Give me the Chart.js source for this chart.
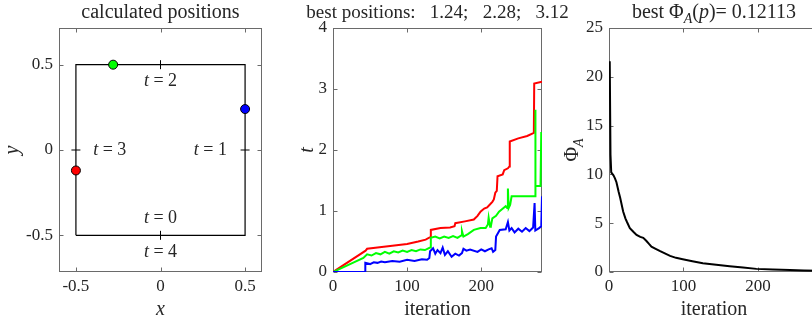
<!DOCTYPE html>
<html>
<head>
<meta charset="utf-8">
<script src="https://cdn.jsdelivr.net/npm/chart.js@4.4.1/dist/chart.umd.min.js"></script>
<style>
  html, body { margin: 0; padding: 0; background: #fff; overflow: hidden; width: 812px; height: 322px; }
  canvas { position: absolute; top: 0; }
</style>
</head>
<body>
<canvas id="c1" width="270" height="322" style="left:0px"></canvas>
<canvas id="c2" width="320" height="322" style="left:270px"></canvas>
<canvas id="c3" width="270" height="322" style="left:560px"></canvas>
<script>
// ---- data ----
const squareX = [-0.5, 0.5, 0.5, -0.5, -0.5];
const squareY = [-0.5, -0.5, 0.5, 0.5, -0.5];
const markX = [0, 0.5, 0, -0.5];          // t = 0, 1, 2, 3 on the square
const markY = [-0.5, 0, 0.5, 0];
const sideTimes = [0, 1, 2, 3, 4];
const posX = [0.5, -0.28, -0.5];          // blue, green, red
const posY = [0.24, 0.5, -0.12];
const posColors = ['#0000ff', '#00ff00', '#ff0000'];
const bestT = [1.24, 2.28, 3.12];
const bestPhi = 0.12113;

const posTicks = [-0.5, 0, 0.5];
const posTickLabels = ['-0.5', '0', '0.5'];
const iterTicks = [0, 100, 200];
const tTicks = [0, 1, 2, 3, 4];
const phiTicks = [0, 5, 10, 15, 20, 25];

const redIt = [0, 44, 46, 60, 80, 100, 115, 125, 131, 132, 145, 158, 164, 165, 178, 190, 195, 199, 204, 208,
  212, 215, 217, 219, 221, 222, 229, 231, 236, 238, 238.5, 250, 262, 271, 271.5, 282];
const redT = [0, 0.35, 0.38, 0.40, 0.43, 0.46, 0.50, 0.53, 0.57, 0.69, 0.72, 0.73, 0.75, 0.80, 0.83, 0.86, 0.92, 0.99, 1.04, 1.06,
  1.11, 1.15, 1.19, 1.30, 1.33, 1.57, 1.60, 1.67, 1.70, 1.73, 2.14, 2.19, 2.23, 2.28, 3.09, 3.12];

const greenIt = [0, 41, 46, 52, 58, 64, 70, 76, 82, 88, 94, 100, 106, 112, 118, 124, 131, 132, 138, 144,
  150, 156, 162, 168, 173, 174, 176, 182, 190, 199, 206, 209, 210, 212, 213, 215, 220, 224, 228, 233,
  235, 236, 237, 239, 241, 272.6, 272.9, 273.4, 280, 281, 282];
const greenT = [0, 0.23, 0.29, 0.27, 0.31, 0.29, 0.33, 0.30, 0.34, 0.32, 0.35, 0.33, 0.36, 0.34, 0.37, 0.36, 0.40, 0.56, 0.58, 0.55,
  0.58, 0.56, 0.59, 0.56, 0.60, 0.67, 0.58, 0.62, 0.69, 0.72, 0.72, 0.78, 0.89, 0.74, 0.75, 0.88, 0.92, 0.99, 1.03, 1.08,
  1.05, 1.37, 1.05, 1.10, 1.24, 1.24, 2.66, 1.41, 1.41, 2.28, 2.28];

const blueIt = [0, 43.5, 43.6, 50, 55, 60, 65, 70, 80, 90, 100, 110, 120, 127, 130, 131, 135, 138, 141, 145,
  148, 151, 155, 160, 165, 170, 174, 176, 180, 185, 195, 200, 205, 210, 214, 216, 219, 220, 225, 233,
  236, 238, 241, 245, 250, 255, 260, 265, 270, 272, 273, 278, 281, 282];
const blueT = [0, 0, 0.15, 0.13, 0.16, 0.15, 0.17, 0.16, 0.18, 0.17, 0.20, 0.18, 0.21, 0.20, 0.23, 0.34, 0.39, 0.30, 0.36, 0.31,
  0.40, 0.28, 0.34, 0.25, 0.30, 0.27, 0.31, 0.38, 0.35, 0.37, 0.33, 0.37, 0.34, 0.37, 0.39, 0.33, 0.36, 0.58, 0.69, 0.70,
  0.82, 0.68, 0.72, 0.65, 0.71, 0.66, 0.72, 0.67, 0.73, 1.13, 0.68, 0.72, 0.75, 1.24];

const phiIt = [1, 2, 3, 6, 8, 10, 13, 15, 19, 22, 24, 28, 33, 37, 42, 46, 50, 54, 57, 62,
  68, 75, 82, 90, 99, 112, 126, 144, 162, 180, 198, 220, 243, 262, 282];
const phiV = [21.6, 12.0, 10.2, 9.9, 9.6, 9.2, 8.2, 7.6, 6.2, 5.5, 5.15, 4.5, 4.1, 3.8, 3.6, 3.5, 3.2, 2.85, 2.6, 2.4,
  2.16, 1.9, 1.65, 1.45, 1.3, 1.1, 0.9, 0.75, 0.6, 0.45, 0.32, 0.25, 0.2, 0.16, 0.12];

// ---- helpers ----
const SERIF = "'Liberation Serif', 'DejaVu Serif', serif";
const INK = '#262626';
Chart.defaults.font.family = SERIF;
Chart.defaults.font.size = 17;
Chart.defaults.color = INK;

const pts = (xs, ys) => xs.map((x, i) => ({ x: x, y: ys[i] }));

// parts: [text, italic, subscript]
function richText(ctx, parts, x, y, size, rotate) {
  const fontFor = p => (p[1] ? 'italic ' : '') + Math.round(p[2] ? size * 0.72 : size) + 'px ' + SERIF;
  ctx.save();
  ctx.translate(x, y);
  if (rotate) ctx.rotate(-Math.PI / 2);
  ctx.fillStyle = INK;
  ctx.textBaseline = 'middle';
  ctx.textAlign = 'left';
  const widths = parts.map(p => { ctx.font = fontFor(p); return ctx.measureText(p[0]).width; });
  let cx = -widths.reduce((a, b) => a + b, 0) / 2;
  parts.forEach((p, i) => {
    ctx.font = fontFor(p);
    ctx.fillText(p[0], cx, p[2] ? size * 0.3 : 0);
    cx += widths[i];
  });
  ctx.restore();
}

// box round the axes with inward ticks, matlab style
const boxPlugin = {
  id: 'box',
  beforeDatasetsDraw(chart) {
    const { ctx, chartArea: a, scales: { x, y } } = chart;
    ctx.save();
    ctx.strokeStyle = '#6a6a6a';
    ctx.lineWidth = 1;
    const l = Math.round(a.left) + 0.5, r = Math.round(a.right) - 0.5;
    const t = Math.round(a.top) + 0.5, b = Math.round(a.bottom) - 0.5;
    ctx.strokeRect(l, t, r - l, b - t);
    ctx.beginPath();
    x.ticks.forEach(tk => {
      const p = Math.round(x.getPixelForValue(tk.value)) + 0.5;
      ctx.moveTo(p, b); ctx.lineTo(p, b - 4);
      ctx.moveTo(p, t); ctx.lineTo(p, t + 4);
    });
    y.ticks.forEach(tk => {
      const p = Math.round(y.getPixelForValue(tk.value)) + 0.5;
      ctx.moveTo(l, p); ctx.lineTo(l + 4, p);
      ctx.moveTo(r, p); ctx.lineTo(r - 4, p);
    });
    ctx.stroke();
    ctx.restore();
  }
};

function labelPlugin(title, titleSize, xLabel, yLabel, yLabelX) {
  return {
    id: 'labels',
    afterDraw(chart) {
      const { ctx, chartArea: a } = chart;
      const cx = (a.left + a.right) / 2;
      richText(ctx, title, cx, 13, titleSize, false);
      richText(ctx, xLabel, cx, 310, 20, false);
      richText(ctx, yLabel, yLabelX, (a.top + a.bottom) / 2, 20, true);
    }
  };
}

function axis(min, max, ticks, labels, isY, size) {
  return {
    type: 'linear', min: min, max: max,
    grid: { display: false, drawTicks: false },
    border: { display: false },
    ticks: {
      padding: isY ? 6 : 4,
      color: INK,
      font: { size: 17 },
      callback: (v, i) => labels ? labels[i] : String(v)
    },
    afterBuildTicks: s => { s.ticks = ticks.map(v => ({ value: v })); },
    afterFit: s => { if (isY) s.width = size; else s.height = size; }
  };
}

const baseOpts = {
  responsive: false,
  animation: false,
  devicePixelRatio: 1,
  plugins: { legend: { display: false }, tooltip: { enabled: false } }
};

// ---- 1: calculated positions ----
const sideLabels = {
  id: 'sideLabels',
  afterDatasetsDraw(chart) {
    const { ctx, scales: { x, y } } = chart;
    const where = [[0, -0.40], [0.295, 0], [0, 0.40], [-0.30, 0], [0, -0.60]];
    sideTimes.forEach((k, i) => {
      richText(ctx, [['t', true, false], [' = ' + k, false, false]],
        x.getPixelForValue(where[i][0]), y.getPixelForValue(where[i][1]), 18, false);
    });
  }
};

new Chart(document.getElementById('c1'), {
  type: 'scatter',
  data: {
    datasets: [
      {
        data: pts(posX, posY),
        backgroundColor: posColors,
        borderColor: '#000',
        borderWidth: 1,
        pointRadius: 4.5
      },
      {
        data: pts(markX, markY),
        pointStyle: 'line',
        rotation: [90, 0, 90, 0],
        borderColor: '#000',
        borderWidth: 1,
        pointRadius: 4.5
      },
      {
        data: pts(squareX, squareY),
        showLine: true,
        borderColor: '#000',
        borderWidth: 1.2,
        pointRadius: 0
      }
    ]
  },
  options: Object.assign({}, baseOpts, {
    layout: { padding: { left: 0, right: 8, top: 28, bottom: 0 } },
    scales: {
      x: axis(-0.6, 0.6, posTicks, posTickLabels, false, 50),
      y: axis(-0.715, 0.715, posTicks, posTickLabels, true, 59)
    }
  }),
  plugins: [boxPlugin, sideLabels,
    labelPlugin([['calculated positions', false, false]], 20, [['x', true, false]], [['y', true, false]], 13)]
});

// ---- 2: best positions per iteration ----
const title2 = 'best positions:   ' + bestT.map(v => v.toFixed(2)).join(';   ');
new Chart(document.getElementById('c2'), {
  type: 'scatter',
  data: {
    datasets: [
      { data: pts(blueIt, blueT), showLine: true, borderColor: '#0000ff', borderWidth: 2, pointRadius: 0 },
      { data: pts(greenIt, greenT), showLine: true, borderColor: '#00ff00', borderWidth: 2, pointRadius: 0 },
      { data: pts(redIt, redT), showLine: true, borderColor: '#ff0000', borderWidth: 2, pointRadius: 0 }
    ]
  },
  options: Object.assign({}, baseOpts, {
    layout: { padding: { left: 0, right: 48, top: 28, bottom: 0 } },
    scales: {
      x: axis(0, 282, iterTicks, null, false, 50),
      y: axis(0, 4, tTicks, null, true, 63)
    }
  }),
  plugins: [boxPlugin,
    labelPlugin([[title2, false, false]], 19, [['iteration', false, false]], [['t', true, false]], 38)]
});

// ---- 3: best Phi_A per iteration ----
new Chart(document.getElementById('c3'), {
  type: 'scatter',
  data: {
    datasets: [
      { data: pts(phiIt, phiV), showLine: true, borderColor: '#000', borderWidth: 2, pointRadius: 0 }
    ]
  },
  options: Object.assign({}, baseOpts, {
    layout: { padding: { left: 0, right: 11, top: 28, bottom: 0 } },
    scales: {
      x: axis(0, 282, iterTicks, null, false, 50),
      y: axis(0, 25, phiTicks, null, true, 49)
    }
  }),
  plugins: [boxPlugin,
    labelPlugin(
      [['best ', false, false], ['\u03A6', false, false], ['A', true, true], ['(', false, false],
       ['p', true, false], [')= ' + bestPhi, false, false]], 20,
      [['iteration', false, false]],
      [['\u03A6', false, false], ['A', true, true]], 13)]
});
</script>
</body>
</html>
